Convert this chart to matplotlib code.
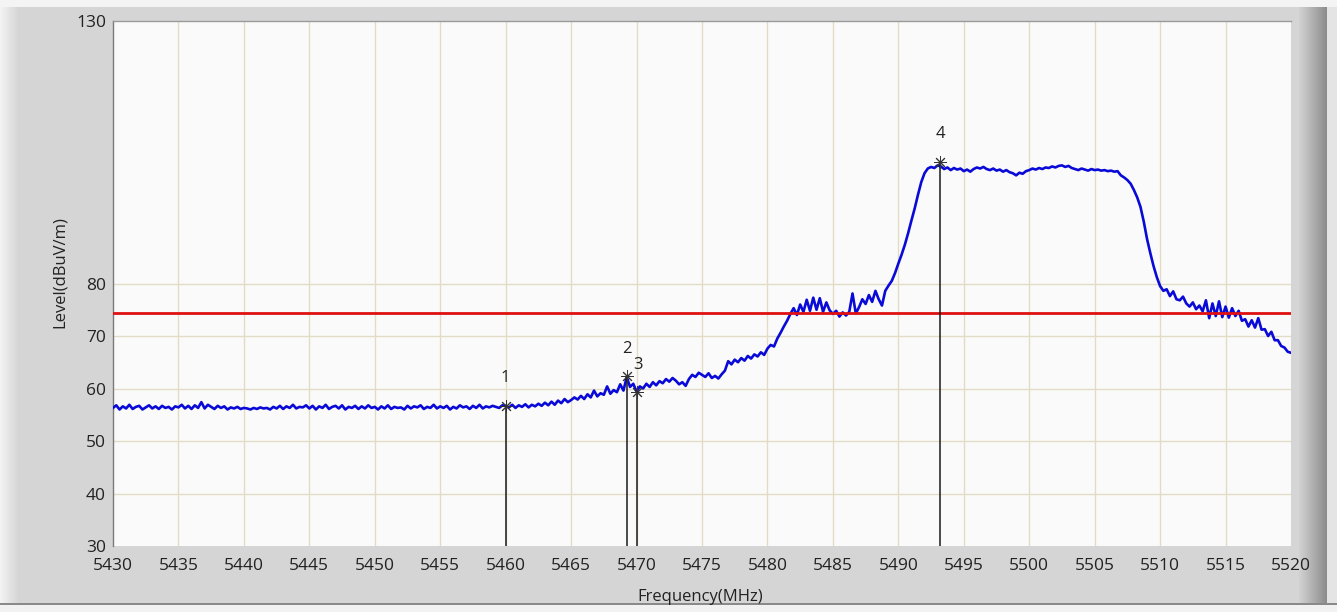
import numpy as np
import matplotlib
matplotlib.use("Agg")
import matplotlib.pyplot as plt

plt.rcParams['font.family'] = ['Open Sans', 'DejaVu Sans']

# ---------------- data ----------------
f_start, f_stop, f_step = 5430.0, 5520.0, 0.25
level = [
    # 5430
    56.3, 56.8, 56.0, 56.6, 56.2, 56.9, 56.1, 56.5, 56.7, 56.0, 56.4, 56.8, 56.2, 56.6, 56.1, 56.7, 56.3, 56.5, 56.0, 56.6,
    # 5435
    56.4, 56.9, 56.2, 56.7, 56.1, 56.8, 56.3, 57.4, 56.2, 56.9, 56.5, 56.1, 56.7, 56.3, 56.6, 56.0, 56.4, 56.2, 56.5, 56.1,
    # 5440
    56.3, 56.2, 56.0, 56.3, 56.1, 56.4, 56.2, 56.3, 56.0, 56.5, 56.2, 56.7, 56.1, 56.6, 56.3, 56.9, 56.2, 56.5, 56.4, 56.8,
    # 5445
    56.2, 56.7, 56.0, 56.6, 56.3, 56.9, 56.1, 56.5, 56.7, 56.2, 56.8, 56.0, 56.5, 56.3, 56.7, 56.1, 56.6, 56.2, 56.8, 56.3,
    # 5450
    56.5, 56.0, 56.6, 56.2, 56.8, 56.1, 56.5, 56.3, 56.4, 56.0, 56.7, 56.2, 56.6, 56.4, 56.8, 56.1, 56.5, 56.3, 56.9, 56.2,
    # 5455
    56.6, 56.3, 56.7, 56.0, 56.5, 56.2, 56.8, 56.4, 56.6, 56.1, 56.7, 56.3, 56.9, 56.2, 56.6, 56.4, 56.7, 56.5, 56.3, 56.8,
    # 5460
    56.7, 56.4, 56.9, 56.3, 56.8, 56.5, 57.0, 56.4, 56.9, 56.6, 57.1, 56.7, 57.3, 56.8, 57.5, 56.9, 57.7, 57.2, 58.0, 57.4,
    # 5465
    57.8, 58.3, 57.9, 58.6, 58.0, 58.9, 58.3, 59.6, 58.5, 59.1, 58.8, 60.4, 59.0, 59.7, 59.3, 60.8, 59.6, 62.2, 60.3, 60.9,
    # 5470
    59.4, 60.4, 60.0, 60.9, 60.3, 61.2, 60.6, 61.4, 61.0, 61.8, 61.3, 62.0, 61.5, 60.8, 61.2, 60.5, 61.8, 62.6, 62.2, 63.0,
    # 5475
    62.6, 62.2, 62.9, 62.0, 62.4, 61.9, 62.7, 63.4, 65.2, 64.6, 65.5, 65.0, 65.8, 65.3, 66.2, 65.7, 66.5, 66.1, 66.9, 66.4,
    # 5480
    67.6, 68.3, 68.0, 69.5, 70.6, 71.8, 72.9, 74.2, 75.3, 74.0, 76.0, 74.6, 76.9, 74.8, 77.3, 75.0, 77.2, 74.6, 76.4, 74.9,
    # 5485
    74.2, 74.8, 73.7, 74.5, 73.9, 74.6, 78.1, 74.3, 75.5, 77.0, 76.1, 77.8, 76.5, 78.6, 77.0, 75.8, 78.6, 79.6, 80.5, 82.0,
    # 5490
    83.8, 85.5, 87.4, 89.6, 92.0, 94.3, 96.9, 99.3, 101.0, 101.9, 102.2, 102.0, 102.5, 102.3, 101.8, 102.1, 101.6, 102.0, 101.7, 101.9,
    # 5495
    101.4, 101.7, 101.3, 101.8, 102.1, 101.9, 102.2, 101.8, 101.6, 101.9, 101.5, 101.7, 101.3, 101.6, 101.2, 101.0, 100.6, 101.1, 100.9, 101.4,
    # 5500
    101.6, 101.9, 101.7, 102.0, 101.8, 102.1, 102.0, 102.3, 102.1, 102.4, 102.5, 102.2, 102.4, 102.0, 101.8, 101.6, 101.9, 101.7, 101.5, 101.8,
    # 5505
    101.6, 101.7, 101.5, 101.6, 101.4, 101.5, 101.3, 101.4, 100.6, 100.2, 99.7, 99.0, 97.8, 96.4, 94.6, 91.8, 88.5, 85.8, 83.3, 81.2,
    # 5510
    79.5, 78.6, 78.9, 77.6, 78.5, 77.0, 76.8, 77.5, 76.2, 75.6, 76.4, 75.1, 75.8, 74.7, 76.8, 73.4, 76.2, 73.8, 76.6, 73.6,
    # 5515
    75.6, 73.5, 75.3, 73.8, 74.8, 72.9, 73.2, 71.8, 73.0, 71.6, 73.4, 71.2, 71.3, 70.0, 70.8, 69.2, 69.2, 68.1, 67.8, 67.0,
    # 5520
    66.8,
]
limit_level = 74.4

marker_ids = ["1", "2", "3", "4"]
marker_freq = [5460.0, 5469.27, 5470.03, 5493.18]
marker_level = [56.7, 62.3, 59.3, 103.2]

x_ticks = [5430, 5435, 5440, 5445, 5450, 5455, 5460, 5465, 5470, 5475,
           5480, 5485, 5490, 5495, 5500, 5505, 5510, 5515, 5520]
y_ticks = [30, 40, 50, 60, 70, 80, 130]
y_grid = [40, 50, 60, 70, 80]

freq = np.linspace(f_start, f_stop, len(level))

# ---------------- figure ----------------
W, H = 1337, 612
fig = plt.figure(figsize=(W / 100, H / 100), dpi=100)
fig.patch.set_facecolor('#d5d5d5')

# frame decorations (figure coordinates)
bg = fig.add_axes([0, 0, 1, 1], zorder=-10)
bg.set_xlim(0, W)
bg.set_ylim(H, 0)
bg.axis('off')
bg.add_patch(plt.Rectangle((0, 0), W, 7, color='#f4f4f4', lw=0))
bg.add_patch(plt.Rectangle((0, 604), W, 8, color='#f2f2f2', lw=0))
bg.add_patch(plt.Rectangle((0, 603), W, 1.5, color='#8a8a8a', lw=0))
grad_l = np.linspace(0.95, 0.84, 18)[None, :]
bg.imshow(grad_l, extent=(0, 18, 603, 7), cmap='gray', vmin=0, vmax=1, aspect='auto')
grad_r = np.linspace(0.84, 0.55, 30)[None, :]
bg.imshow(grad_r, extent=(1297, 1327, 603, 7), cmap='gray', vmin=0, vmax=1, aspect='auto')
bg.add_patch(plt.Rectangle((1327, 7), 10, 596, color='#e4e4e4', lw=0))

ax = fig.add_axes([113 / W, 1 - 546 / H, (1291 - 113) / W, (546 - 21) / H])
ax.set_facecolor('#fafafa')
ax.set_xlim(5430, 5520)
ax.set_ylim(30, 130)

for xv in x_ticks[1:-1]:
    ax.axvline(xv, color='#e2dcc6', lw=1.0, zorder=1)
for yv in y_grid:
    ax.axhline(yv, color='#e2dcc6', lw=1.0, zorder=1)

ax.plot(freq, level, color='#0a0ad8', lw=1.9, zorder=3)
ax.axhline(limit_level, color='#e01010', lw=2.0, zorder=4)

for mid, mf, ml in zip(marker_ids, marker_freq, marker_level):
    ax.plot([mf, mf], [30, ml], color='#1a1a1a', lw=1.1, zorder=5)
    ax.plot([mf], [ml], marker=(8, 2, 0), ms=9, mew=0.7, color='#333333', zorder=6)
    dx = 1 if mid == "3" else 0
    ax.annotate(mid, (mf, ml), xytext=(dx, 14), textcoords='offset points',
                ha='center', va='bottom', fontsize=12, color='#222222')

ax.set_xticks(x_ticks)
ax.set_yticks(y_ticks)
ax.set_xticklabels([str(v) for v in x_ticks])
ax.set_yticklabels([str(v) for v in y_ticks])
ax.tick_params(axis='x', length=0, pad=9, labelsize=12.5, colors='#222222')
ax.tick_params(axis='y', length=0, pad=5, labelsize=12.5, colors='#222222')

for side in ['right', 'bottom']:
    ax.spines[side].set_visible(False)
ax.spines['left'].set_color('#7a7a7a')
ax.spines['top'].set_color('#9a9a9a')
ax.spines['left'].set_linewidth(1.0)
ax.spines['top'].set_linewidth(1.0)

fig.text(700 / W, 1 - 597 / H, 'Frequency(MHz)', ha='center', va='center', fontsize=12, color='#222222')
fig.text(60 / W, 1 - 272 / H, 'Level(dBuV/m)', ha='center', va='center', rotation=90,
         fontsize=12, color='#222222')

fig.savefig('out.png', dpi=100, facecolor=fig.get_facecolor())
